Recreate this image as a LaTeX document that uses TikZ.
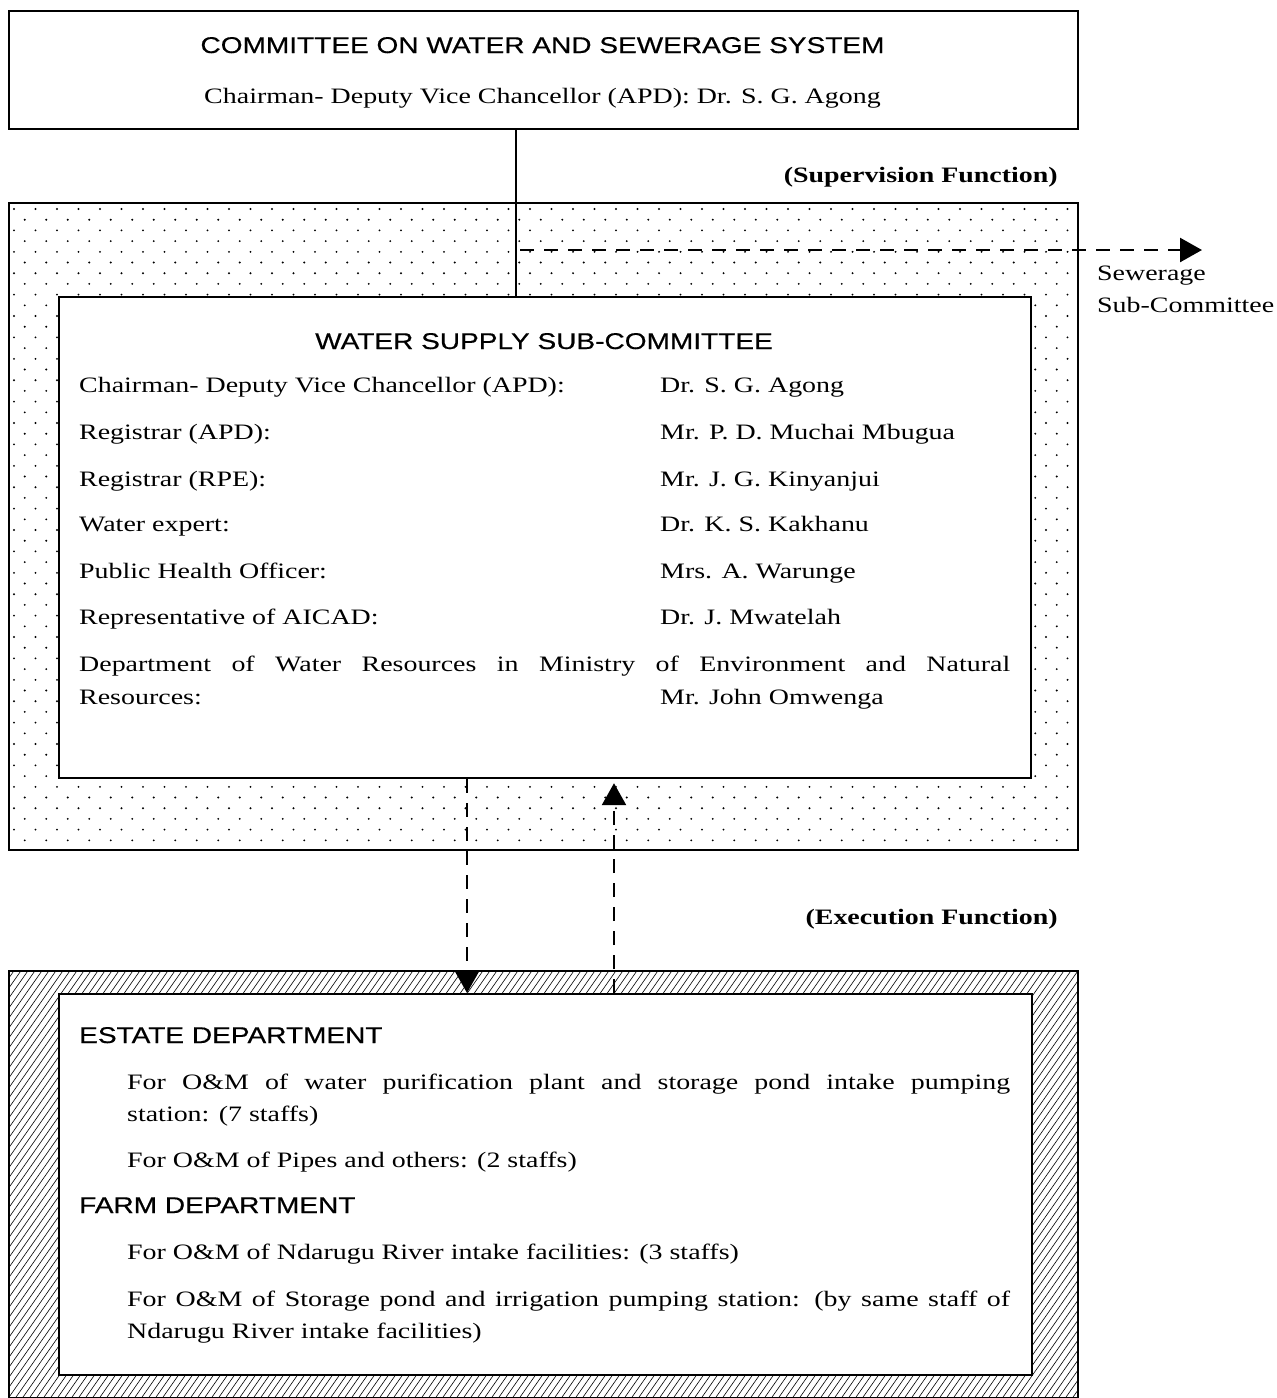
\documentclass[tikz,border=0pt]{standalone}
\usepackage{fontspec}
\setmainfont{Liberation Serif}[FakeStretch=1.27]
\newfontfamily\headfont{Liberation Sans}[FakeStretch=1.23,FakeBold=0.5]
\usetikzlibrary{arrows.meta,calc}

\begin{document}
\begin{tikzpicture}[x=1pt,y=-1pt,
  frame/.style={draw=black,line width=2.2pt,inner sep=0pt,anchor=north west},
  head/.style={font=\headfont\fontsize{22.8}{26}\selectfont,inner sep=0pt},
  body/.style={font=\fontsize{22}{26}\selectfont,inner sep=0pt,anchor=base west},
  func/.style={font=\bfseries\fontsize{22}{26}\selectfont,inner sep=0pt,anchor=base east},
  link/.style={line width=2pt},
  dasharrow/.style={line width=2.6pt,dash pattern=on 14pt off 10pt,
    -{Triangle[length=22pt,width=24pt]}},
  dot/.style={fill=black}
]
\useasboundingbox (0,0) rectangle (1277,1398);

% ---- dotted band of the supervision level
\begin{scope}
  \clip (8,202) rectangle (1077,849);
  \foreach \r in {0,...,60}{
    \foreach \c in {0,...,50}{
      \fill[dot] ({14+\c*21.5+mod(\r,2)*10.75},{209+\r*10.7}) circle (1.05pt);
    }
  }
\end{scope}

% ---- hatched band of the execution level
\begin{scope}
  \clip (8,970) rectangle (1077,1397);
  \foreach \i in {-50,...,160}{
    \draw[line width=0.6pt] ({\i*7},1400) -- ++(305,-435);
  }
\end{scope}

% ---- boxes
\node[frame,minimum width=1069pt,minimum height=118pt] (committee) at (8,10) {};
\node[frame,minimum width=1069pt,minimum height=647pt] (supervision) at (8,202) {};
\node[frame,fill=white,minimum width=972pt,minimum height=481pt] (watersub) at (58,296) {};
\node[frame,minimum width=1069pt,minimum height=427pt] (execution) at (8,970) {};
\node[frame,fill=white,minimum width=973pt,minimum height=381pt] (dept) at (58,993) {};

% ---- connectors
\coordinate (tap) at (516,0);
\coordinate (sewer) at (1202,250);
\coordinate (downx) at (467,0);
\coordinate (upx) at (614,0);
\draw[link] (committee.south -| tap) -- (watersub.north -| tap);
\draw[dasharrow] ($(tap |- sewer)+(4,0)$) -- (sewer);
\draw[dasharrow] (watersub.south -| downx) -- (dept.north -| downx);
\draw[dasharrow,shorten >=4pt] (dept.north -| upx) -- (watersub.south -| upx);

% ---- committee texts
\node[head,anchor=base] (ctitle) at (542.5,53) {COMMITTEE ON WATER AND SEWERAGE SYSTEM};
\node[body,anchor=base] (cchair) at (542.5,103) {Chairman- Deputy Vice Chancellor (APD): Dr. S. G. Agong};
\node[func] (supfn) at (1058,182) {(Supervision Function)};
\node[body] (sew1) at (1097,280) {Sewerage};
\node[body] (sew2) at (1097,312) {Sub-Committee};

% ---- water supply sub-committee
\node[head,anchor=base] (wtitle) at (544,349) {WATER SUPPLY SUB-COMMITTEE};
\node[body] (r1) at (79,392) {Chairman- Deputy Vice Chancellor (APD):};
\node[body] (v1) at (660,392) {Dr. S. G. Agong};
\node[body] (r2) at (79,439) {Registrar (APD):};
\node[body] (v2) at (660,439) {Mr. P. D. Muchai Mbugua};
\node[body] (r3) at (79,486) {Registrar (RPE):};
\node[body] (v3) at (660,486) {Mr. J. G. Kinyanjui};
\node[body] (r4) at (79,531) {Water expert:};
\node[body] (v4) at (660,531) {Dr. K. S. Kakhanu};
\node[body] (r5) at (79,578) {Public Health Officer:};
\node[body] (v5) at (660,578) {Mrs. A. Warunge};
\node[body] (r6) at (79,624) {Representative of AICAD:};
\node[body] (v6) at (660,624) {Dr. J. Mwatelah};
\node[body] (r7) at (79,671) {\makebox[931pt][s]{Department of Water Resources in Ministry of Environment and Natural}};
\node[body] (r7b) at (79,704) {Resources:};
\node[body] (v7) at (660,704) {Mr. John Omwenga};

\node[func] (exefn) at (1058,924) {(Execution Function)};

% ---- departments
\node[head,anchor=base west] (estate) at (79,1043) {ESTATE DEPARTMENT};
\node[body] (e1) at (127,1089) {\makebox[883pt][s]{For O\&M of water purification plant and storage pond intake pumping}};
\node[body] (e1b) at (127,1121) {station: (7 staffs)};
\node[body] (e2) at (127,1167) {For O\&M of Pipes and others: (2 staffs)};
\node[head,anchor=base west] (farm) at (79,1213) {FARM DEPARTMENT};
\node[body] (f1) at (127,1259) {For O\&M of Ndarugu River intake facilities: (3 staffs)};
\node[body] (f2) at (127,1306) {\makebox[883pt][s]{For O\&M of Storage pond and irrigation pumping station: (by same staff of}};
\node[body] (f2b) at (127,1338) {Ndarugu River intake facilities)};
\end{tikzpicture}
\end{document}
